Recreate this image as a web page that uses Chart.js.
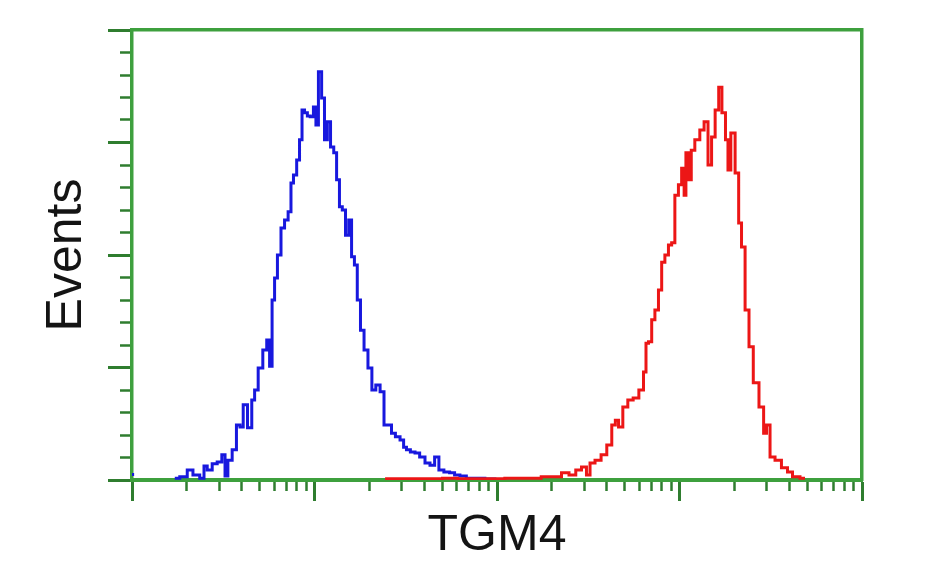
<!DOCTYPE html>
<html>
<head>
<meta charset="utf-8">
<script src="https://cdn.jsdelivr.net/npm/chart.js@4.4.1/dist/chart.umd.min.js"></script>
<style>
  html, body { margin: 0; padding: 0; background: #fff; }
</style>
</head>
<body>
<canvas id="histChart" width="940" height="587"></canvas>
<script>
// Histogram: 1024 channels over 4 log decades
const blueChannels = [0, 3, 5, 60, 74, 81, 90, 100, 102, 109, 116, 123, 129, 132, 137, 144, 149, 154, 158, 166, 170, 174, 180, 187, 191, 195, 198, 202, 206, 212, 216, 222, 224, 229, 233, 237, 240, 244, 248, 252, 257, 259, 264, 268, 272, 276, 281, 285, 289, 293, 297, 302, 306, 310, 314, 318, 323, 328, 334, 339, 345, 351, 356, 362, 366, 373, 379, 383, 387, 394, 400, 407, 415, 421, 428, 433, 442, 449, 456, 464, 474, 488, 502, 516];
const blueCounts = [1.2, 1.2, null, 0.4, 0.7, 2.2, 1.1, 0.4, 3.1, 2.2, 3.6, 4.0, 5.6, 0.9, 4.4, 6.7, 12.2, 11.8, 16.7, 11.6, 17.8, 20, 24.9, 28.9, 31.1, 25.3, 40, 44.9, 50, 56, 57.8, 59.6, 66, 67.8, 71.1, 75.6, 82.2, 81.6, 80.9, 80.7, 82.9, 78.9, 90.7, 84.9, 75.6, 79.6, 74, 72.7, 66.7, 60.7, 60, 54.4, 57.8, 49.6, 47.8, 40, 33.3, 28.9, 24.9, 20, 21.1, 19.6, 12.2, 12.2, 10.4, 9.6, 8.9, 7.3, 6.7, 6.2, 6, 5.1, 3.8, 3.3, 5.1, 2.2, 1.8, 1.6, 1.1, 0.9, 0.4, 0.4, 0.2, 0.1];

const redChannels = [355, 376, 404, 425, 446, 467, 488, 509, 537, 562, 586, 598, 607, 619, 626, 635, 640, 645, 654, 662, 670, 676, 680, 685, 692, 699, 707, 715, 720, 722, 727, 731, 736, 741, 745, 750, 755, 759, 764, 769, 773, 776, 778, 783, 786, 793, 800, 805, 811, 815, 821, 825, 830, 835, 837, 843, 849, 853, 857, 863, 868, 875, 884, 888, 892, 898, 906, 916, 923, 930, 944];
const redCounts = [0.3, 0.3, 0.3, 0.3, 0.4, 0.3, 0.3, 0.3, 0.4, 0.4, 0.7, 0.7, 1.6, 1.1, 2.2, 2.9, 1.1, 3.8, 4.4, 5.6, 7.8, 12.2, 13.3, 11.8, 16.2, 17.8, 18.2, 20, 24, 30.4, 30.7, 35.6, 37.8, 42.2, 48.4, 50, 52.2, 52.7, 63.3, 65.6, 69.3, 63.3, 72.7, 66.7, 73.3, 75.6, 77.8, 79.6, 70, 76.2, 82.2, 87.3, 81.6, 75.6, 68.9, 77.1, 68.2, 57.1, 51.8, 37.8, 29.6, 21.6, 16.2, 10.4, 12.2, 5.1, 4.4, 2.7, 1.8, 0.7, 0.4];

// axis ticks
const decades = [1, 10, 100, 1000, 10000];
const minorSteps = [2, 3, 4, 5, 6, 7, 8, 9];
const yMax = 100;
const yStep = 5;
const yMajorStep = 25;

const CHANNELS_PER_DECADE = 256;
const toPoints = (chs, counts) => chs.map((c, i) => ({ x: Math.pow(10, c / CHANNELS_PER_DECADE), y: counts[i] }));

const green = '#3ea03e';
const tickGreen = '#2f7d2f';
const fontFamily = "'Liberation Sans', Arial, Helvetica, sans-serif";

const isDecade = (v) => Math.abs(Math.log10(v) - Math.round(Math.log10(v))) < 1e-9;

const ctx = document.getElementById('histChart').getContext('2d');
new Chart(ctx, {
  type: 'line',
  data: {
    datasets: [
      {
        label: 'TGM4',
        data: toPoints(redChannels, redCounts),
        borderColor: 'rgb(236, 22, 22)',
        borderWidth: 3,
        pointRadius: 0,
        stepped: 'middle',
        spanGaps: false,
      },
      {
        label: 'Control',
        data: toPoints(blueChannels, blueCounts),
        borderColor: 'rgb(24, 24, 222)',
        borderWidth: 3,
        pointRadius: 0,
        stepped: 'middle',
        spanGaps: false,
      },
    ],
  },
  options: {
    responsive: false,
    animation: false,
    layout: { padding: { left: 0, top: 30, right: 78, bottom: 0 } },
    plugins: {
      legend: { display: false },
      tooltip: { enabled: false },
    },
    scales: {
      x: {
        type: 'logarithmic',
        position: 'bottom',
        min: 1,
        max: 10000,
        afterBuildTicks: (scale) => {
          const ticks = [];
          decades.forEach((d, i) => {
            ticks.push({ value: d });
            if (i < decades.length - 1) minorSteps.forEach((m) => ticks.push({ value: d * m }));
          });
          scale.ticks = ticks;
        },
        afterFit: (scale) => { scale.height = 107; },
        ticks: { display: false },
        grid: {
          drawOnChartArea: false,
          drawTicks: true,
          tickLength: 21,
          tickColor: tickGreen,
          tickWidth: (c) => (isDecade(c.tick.value) ? 3 : 2.5),
          tickBorderDash: (c) => (isDecade(c.tick.value) ? [] : [9, 100]),
        },
        border: { display: true, color: green, width: 4 },
        title: {
          display: true,
          text: 'TGM4',
          color: '#141414',
          font: { family: fontFamily, size: 50, lineHeight: 1.2 },
          padding: { top: 0, bottom: 21 },
        },
      },
      y: {
        type: 'linear',
        position: 'left',
        min: 0,
        max: yMax,
        afterFit: (scale) => { scale.width = 132; },
        ticks: { display: false, stepSize: yStep },
        grid: {
          drawOnChartArea: false,
          drawTicks: true,
          tickLength: 24,
          tickColor: tickGreen,
          tickWidth: (c) => (c.tick.value % yMajorStep === 0 ? 3 : 2.5),
          tickBorderDash: (c) => (c.tick.value % yMajorStep === 0 ? [] : [0, 12, 10, 100]),
        },
        border: { display: true, color: green, width: 3.5 },
        title: {
          display: true,
          text: 'Events',
          color: '#141414',
          font: { family: fontFamily, size: 50, lineHeight: 1.2 },
          padding: { top: 37, bottom: 0 },
        },
      },
      xTop: {
        type: 'linear',
        position: 'top',
        afterFit: (scale) => { scale.height = 0; },
        ticks: { display: false },
        grid: { drawOnChartArea: false, drawTicks: false },
        border: { display: true, color: green, width: 3.5 },
      },
      yRight: {
        type: 'linear',
        position: 'right',
        afterFit: (scale) => { scale.width = 0; },
        ticks: { display: false },
        grid: { drawOnChartArea: false, drawTicks: false },
        border: { display: true, color: green, width: 3.5 },
      },
    },
  },
});
</script>
</body>
</html>
